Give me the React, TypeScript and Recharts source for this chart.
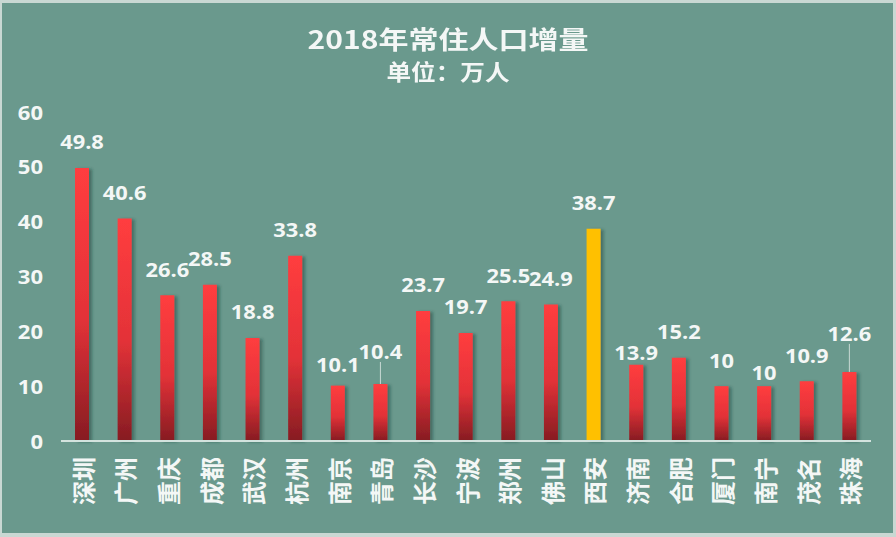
import React from 'react';
import { BarChart, Bar, XAxis, YAxis, Cell, LabelList } from 'recharts';

const cities = ['深圳', '广州', '重庆', '成都', '武汉', '杭州', '南京', '青岛', '长沙', '宁波', '郑州', '佛山', '西安', '济南', '合肥', '厦门', '南宁', '茂名', '珠海'];
const increases = [49.8, 40.6, 26.6, 28.5, 18.8, 33.8, 10.1, 10.4, 23.7, 19.7, 25.5, 24.9, 38.7, 13.9, 15.2, 10, 10, 10.9, 12.6];
const highlightCity = '西安';
const yTicks = [0, 10, 20, 30, 40, 50, 60];

// label placement tweaks (style only): lift above bar top, and whether a leader line is drawn
const labelLift: Record<string, number> = { '南京': 21, '青岛': 32, '济南': 12, '南宁': 14, '珠海': 38 };
const leaderCities = ['青岛', '珠海'];

const data = cities.map((c, i) => ({ city: c, value: increases[i] }));

const BG = '#6a998d';
const TEXT = '#f4f7f6';
const NUM_FONT = '"Open Sans", "Noto Sans", sans-serif';
const CJK_FONT = '"Noto Sans CJK SC", sans-serif';

const YTick = (props: any) => {
  const { x, y, payload } = props;
  return (
    <g transform={`translate(${x},${y}) scale(1.1,1)`}>
      <text x={0} y={0} textAnchor="end" dominantBaseline="central" fill={TEXT}
        fontFamily={NUM_FONT} fontWeight={700} fontSize={20}>{payload.value}</text>
    </g>
  );
};

const XTick = (props: any) => {
  const { x, y, payload } = props;
  return (
    <g transform={`translate(${x},${y}) rotate(-90)`}>
      <text x={0} y={0} textAnchor="end" dominantBaseline="central" fill={TEXT}
        fontFamily={CJK_FONT} fontWeight={700} fontSize={24}>{payload.value}</text>
    </g>
  );
};

const ValueLabel = (props: any) => {
  const { x, y, width, value, index } = props;
  const city = cities[index];
  const lift = labelLift[city] ?? 26;
  const cx = x + width / 2;
  const ly = y - lift;
  return (
    <g>
      {leaderCities.includes(city) && (
        <line x1={cx} x2={cx} y1={ly + 10} y2={y} stroke="#c9d9d4" strokeWidth={1} />
      )}
      <g transform={`translate(${cx},${ly}) scale(1.15,1)`}>
        <text x={0} y={0} textAnchor="middle" dominantBaseline="central" fill={TEXT}
          fontFamily={NUM_FONT} fontWeight={700} fontSize={19}>{String(value)}</text>
      </g>
    </g>
  );
};

export default function App() {
  return (
    <div style={{ position: 'absolute', left: 0, top: 0, width: 896, height: 537, background: '#c9d8d3' }}>
      <div style={{ position: 'absolute', left: 2, top: 3, width: 891, height: 530, background: BG }} />
      <div style={{ position: 'absolute', left: 0, top: 0, width: 896, height: 537 }}>
        <BarChart width={896} height={537} data={data} margin={{ top: 112, right: 25, left: 0, bottom: 0 }}>
          <defs>
            <linearGradient id="redGrad" x1="0" y1="0" x2="0" y2="1">
              <stop offset="0%" stopColor="#ff3d3f" />
              <stop offset="55%" stopColor="#e33238" />
              <stop offset="100%" stopColor="#861c22" />
            </linearGradient>
            <filter id="barShadow" x="-50%" y="-10%" width="200%" height="120%">
              <feDropShadow dx="3" dy="1" stdDeviation="1.5" floodColor="#1f3a33" floodOpacity="0.45" />
            </filter>
          </defs>
          <YAxis domain={[0, 60]} ticks={yTicks} width={61} axisLine={false} tickLine={false}
            tickSize={0} tickMargin={18} tick={<YTick />} interval={0} />
          <XAxis dataKey="city" height={96} axisLine={{ stroke: '#d3e3de', strokeWidth: 2 }} tickLine={false}
            tickSize={0} tickMargin={16} tick={<XTick />} interval={0} />
          <Bar dataKey="value" barSize={14} isAnimationActive={false} filter="url(#barShadow)">
            {data.map((d) => (
              <Cell key={d.city} fill={d.city === highlightCity ? '#ffc000' : 'url(#redGrad)'} />
            ))}
            <LabelList dataKey="value" content={<ValueLabel />} />
          </Bar>
        </BarChart>
      </div>
      <div style={{ position: 'absolute', left: 0, top: 22, width: 896, textAlign: 'center', color: TEXT,
        fontFamily: CJK_FONT, fontWeight: 700, fontSize: 25, lineHeight: '32px', transform: 'scaleX(1.2)' }}>
        2018年常住人口增量
      </div>
      <div style={{ position: 'absolute', left: 0, top: 55, width: 896, textAlign: 'center', color: TEXT,
        fontFamily: CJK_FONT, fontWeight: 700, fontSize: 22, lineHeight: '30px', transform: 'scaleX(1.12)' }}>
        单位：万人
      </div>
    </div>
  );
}
